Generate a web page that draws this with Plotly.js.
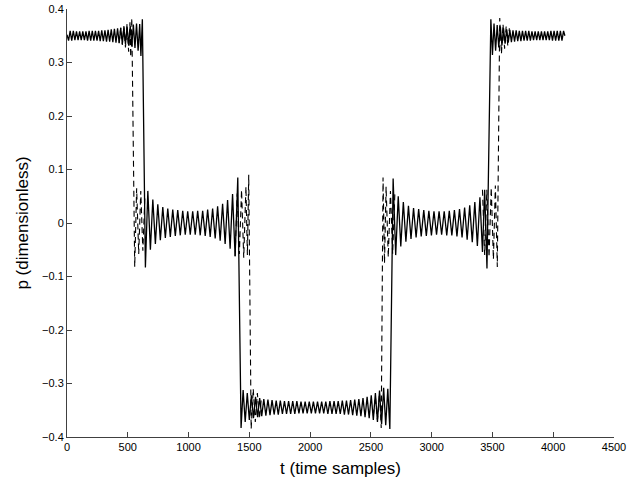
<!DOCTYPE html>
<html>
<head>
<meta charset="utf-8">
<script src="https://cdn.plot.ly/plotly-3.0.1.min.js"></script>
<style>html,body{margin:0;padding:0;background:#fff;}#chart{width:641px;height:487px;}</style>
</head>
<body>
<div id="chart"></div>
<script>
// ---- solid series (t in time samples, p dimensionless) ----
const tSolidA = [0,13,26,39,52,65,78,91,104,117,130,143,156,169,182,195,208,221,234,247,260,273,286,299,312,325,338,351,364,377,390,403,416,429,442,455,468,481,494,507,520,533,546,559,572,585,598,608,620];
const pSolidA = [0.352,0.341,0.359,0.341,0.359,0.342,0.358,0.342,0.358,0.342,0.358,0.342,0.358,0.341,0.359,0.341,0.359,0.341,0.359,0.341,0.359,0.340,0.360,0.340,0.360,0.339,0.361,0.339,0.362,0.338,0.363,0.337,0.364,0.336,0.365,0.335,0.366,0.334,0.367,0.332,0.369,0.330,0.371,0.327,0.373,0.322,0.372,0.312,0.381];

const tSolidB = [645,665,686,706,727,747,768,788,809,829,850,870,891,911,932,952,973,993,1014,1034,1055,1075,1096,1116,1137,1157,1178,1198,1219,1239,1260,1280,1301,1321,1342,1362,1383,1405];
const pSolidB = [-0.083,0.060,-0.050,0.044,-0.039,0.035,-0.032,0.030,-0.028,0.027,-0.026,0.025,-0.024,0.024,-0.023,0.023,-0.022,0.022,-0.022,0.022,-0.022,0.023,-0.023,0.023,-0.024,0.025,-0.026,0.027,-0.029,0.031,-0.033,0.036,-0.039,0.043,-0.048,0.054,-0.062,0.085];

const tSolidC = [1432,1449,1466,1483,1500,1517,1534,1551,1568,1585,1602,1619,1636,1653,1670,1687,1704,1721,1738,1755,1772,1789,1806,1823,1840,1857,1874,1891,1908,1925,1942,1959,1976,1993,2010,2027,2044,2061,2078,2095,2112,2129,2146,2163,2180,2197,2214,2231,2248,2265,2282,2299,2316,2333,2350,2367,2384,2401,2418,2435,2452,2469,2486,2503,2520,2537,2554,2571,2588,2605,2622,2639,2656];
const pSolidC = [-0.383,-0.312,-0.372,-0.318,-0.368,-0.322,-0.365,-0.325,-0.363,-0.327,-0.361,-0.329,-0.360,-0.330,-0.359,-0.331,-0.358,-0.332,-0.358,-0.332,-0.357,-0.333,-0.357,-0.333,-0.357,-0.333,-0.357,-0.333,-0.356,-0.334,-0.356,-0.334,-0.356,-0.334,-0.356,-0.334,-0.356,-0.334,-0.356,-0.334,-0.356,-0.334,-0.357,-0.333,-0.357,-0.333,-0.357,-0.333,-0.357,-0.332,-0.358,-0.332,-0.358,-0.331,-0.359,-0.330,-0.360,-0.329,-0.361,-0.327,-0.363,-0.325,-0.365,-0.322,-0.368,-0.318,-0.372,-0.313,-0.376,-0.308,-0.378,-0.310,-0.385];

const tSolidD = [2683,2704,2725,2746,2767,2788,2809,2830,2851,2872,2893,2914,2935,2956,2977,2998,3019,3040,3061,3082,3103,3124,3145,3166,3187,3208,3229,3250,3271,3292,3313,3334,3355,3376,3397,3418,3436,3455];
const pSolidD = [0.083,-0.060,0.050,-0.044,0.039,-0.035,0.032,-0.030,0.028,-0.027,0.026,-0.025,0.024,-0.024,0.023,-0.023,0.022,-0.022,0.022,-0.022,0.022,-0.023,0.023,-0.023,0.024,-0.025,0.026,-0.027,0.029,-0.031,0.033,-0.036,0.039,-0.043,0.048,-0.054,0.062,-0.085];

const tSolidE = [3487,3500,3513,3526,3539,3552,3565,3578,3591,3604,3617,3630,3643,3656,3669,3682,3695,3708,3721,3734,3747,3760,3773,3786,3799,3812,3825,3838,3851,3864,3877,3890,3903,3916,3929,3942,3955,3968,3981,3994,4007,4020,4033,4046,4059,4072,4085,4096];
const pSolidE = [0.381,0.314,0.373,0.322,0.370,0.328,0.367,0.332,0.364,0.335,0.362,0.337,0.361,0.338,0.360,0.339,0.360,0.340,0.359,0.340,0.359,0.341,0.359,0.341,0.359,0.341,0.358,0.342,0.358,0.342,0.358,0.342,0.358,0.342,0.358,0.342,0.358,0.342,0.359,0.341,0.359,0.341,0.359,0.341,0.359,0.341,0.359,0.350];

// ---- dashed series: only the parts that differ from the solid one ----
const tDash1 = [429,442,455,468,481,494,507,518,524,533,557,573,590,607,624,641];
const pDash1 = [0.337,0.365,0.333,0.368,0.328,0.372,0.320,0.375,0.310,0.383,-0.082,0.065,-0.058,0.060,-0.052,0.050];
const tDash2 = [1383,1400,1418,1436,1454,1472,1484,1495,1515,1532,1549,1566,1583,1600];
const pDash2 = [-0.062,0.055,-0.058,0.062,-0.065,0.068,-0.060,0.090,-0.385,-0.310,-0.372,-0.318,-0.366,-0.325];
const tDash3 = [2520,2537,2554,2571,2585,2600,2612,2625,2643,2661,2679,2697];
const pDash3 = [-0.360,-0.325,-0.368,-0.318,-0.383,0.085,-0.075,0.068,-0.064,0.060,-0.058,0.055];
const tDash4 = [3418,3436,3454,3472,3490,3508,3524,3540,3560,3574,3587,3600,3613,3626,3639];
const pDash4 = [0.062,-0.060,0.062,-0.064,0.066,-0.068,0.070,-0.082,0.383,0.316,0.372,0.326,0.368,0.332,0.364];

const xTicks = [0,500,1000,1500,2000,2500,3000,3500,4000,4500];
const yTicks = [-0.4,-0.3,-0.2,-0.1,0,0.1,0.2,0.3,0.4];

const tSolid = [].concat(tSolidA, tSolidB, tSolidC, tSolidD, tSolidE);
const pSolid = [].concat(pSolidA, pSolidB, pSolidC, pSolidD, pSolidE);
const tDash = [].concat(tDash1, [null], tDash2, [null], tDash3, [null], tDash4);
const pDash = [].concat(pDash1, [null], pDash2, [null], pDash3, [null], pDash4);

const traces = [
  {x: tDash, y: pDash, type: 'scatter', mode: 'lines', connectgaps: false,
   line: {color: '#000', width: 1.1, dash: '6px,4px'}, hoverinfo: 'skip'},
  {x: tSolid, y: pSolid, type: 'scatter', mode: 'lines',
   line: {color: '#000', width: 1.3}, hoverinfo: 'skip'}
];

const FONT = 'Liberation Sans, Arial, sans-serif';
const axisCommon = {
  showgrid: false, zeroline: false, showline: true, linecolor: '#404040', linewidth: 1,
  ticks: 'inside', ticklen: 5, tickwidth: 1, tickcolor: '#404040',
  tickfont: {family: FONT, size: 11, color: '#000'},
  mirror: false
};

const layout = {
  width: 641, height: 487,
  margin: {l: 67, r: 27, t: 9, b: 50},
  paper_bgcolor: '#fff', plot_bgcolor: '#fff',
  showlegend: false,
  xaxis: Object.assign({}, axisCommon, {
    range: [0, 4500], tickmode: 'array', tickvals: xTicks, ticktext: xTicks.map(String),
    title: {text: 't (time samples)', font: {family: FONT, size: 17, color: '#000'}, standoff: 9}
  }),
  yaxis: Object.assign({}, axisCommon, {
    range: [-0.4, 0.4], tickmode: 'array', tickvals: yTicks,
    ticktext: yTicks.map(v => v === 0 ? '0' : (v < 0 ? '\u2212' + String(-v) : String(v))),
    title: {text: 'p (dimensionless)', font: {family: FONT, size: 17, color: '#000'}, standoff: 9}
  })
};

Plotly.newPlot('chart', traces, layout, {staticPlot: true, displayModeBar: false});
</script>
</body>
</html>
